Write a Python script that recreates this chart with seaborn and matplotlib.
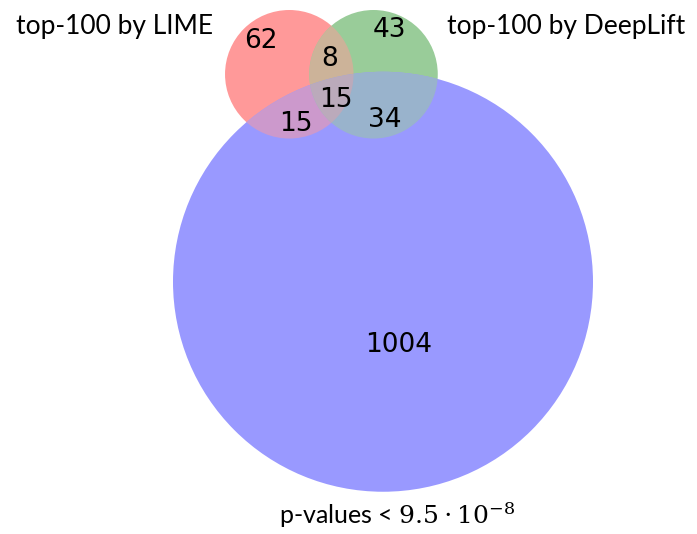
import numpy as np
import matplotlib
matplotlib.use("Agg")
import matplotlib.pyplot as plt
import seaborn as sns
from matplotlib.patches import Circle, Polygon

# region counts (A = LIME, B = DeepLift, C = p-values)
set_names = ["top-100 by LIME", "top-100 by DeepLift", r"p-values < $9.5\cdot10^{-8}$"]
only_a = 62
only_b = 43
only_c = 1004
a_b = 8
a_c = 15
b_c = 34
a_b_c = 15

size_a = only_a + a_b + a_c + a_b_c
size_b = only_b + a_b + b_c + a_b_c
size_c = only_c + a_c + b_c + a_b_c
inter_ab = a_b + a_b_c
inter_ac = a_c + a_b_c
inter_bc = b_c + a_b_c


def lens_area(r1, r2, d):
    if d >= r1 + r2:
        return 0.0
    if d <= abs(r1 - r2):
        return np.pi * min(r1, r2) ** 2
    a1 = r1 ** 2 * np.arccos((d ** 2 + r1 ** 2 - r2 ** 2) / (2 * d * r1))
    a2 = r2 ** 2 * np.arccos((d ** 2 + r2 ** 2 - r1 ** 2) / (2 * d * r2))
    a3 = 0.5 * np.sqrt((-d + r1 + r2) * (d + r1 - r2) * (d - r1 + r2) * (d + r1 + r2))
    return a1 + a2 - a3


def solve_distance(r1, r2, target):
    lo, hi = abs(r1 - r2), r1 + r2
    for _ in range(100):
        mid = (lo + hi) / 2
        if lens_area(r1, r2, mid) > target:
            lo = mid
        else:
            hi = mid
    return (lo + hi) / 2


# area proportional radii
ra = np.sqrt(size_a / np.pi)
rb = np.sqrt(size_b / np.pi)
rc = np.sqrt(size_c / np.pi)
d_ab = solve_distance(ra, rb, inter_ab)
d_ac = solve_distance(ra, rc, inter_ac)
d_bc = solve_distance(rb, rc, inter_bc)

ca = np.array([0.0, 0.0])
cb = np.array([d_ab, 0.0])
cx = (d_ac ** 2 - d_bc ** 2 + d_ab ** 2) / (2 * d_ab)
cc = np.array([cx, -np.sqrt(max(d_ac ** 2 - cx ** 2, 0))])

# matplotlib_venn style colours: mix, then alpha 0.4 on white
base = {"a": np.array([1.0, 0, 0]), "b": np.array([0, 0.5, 0]), "c": np.array([0, 0, 1.0])}


def region_color(*keys):
    mix = np.mean([base[k] for k in keys], axis=0)
    return tuple(1 - 0.4 * (1 - mix))


sns.set_theme(style="white")
plt.rcParams['font.family'] = ['DejaVu Sans']
plt.rcParams['text.color'] = 'black'
plt.rcParams['mathtext.fontset'] = 'dejavuserif'

fig = plt.figure(figsize=(6.97, 5.34), dpi=100)
ax = fig.add_axes([0, 0, 1, 1])
ax.axis("off")

s = 420 / (2 * rc)  # px per unit
left = cc[0] - rc - 173 / s
top = ra + 10 / s
ax.set_xlim(left, left + 697 / s)
ax.set_ylim(top - 534 / s, top)

circ = {"a": (ca, ra), "b": (cb, rb), "c": (cc, rc)}


def make_circle(k, color=None):
    c, r = circ[k]
    return Circle(c, r, facecolor=color, edgecolor="none", transform=ax.transData)


for k in ["a", "b", "c"]:
    ax.add_patch(make_circle(k, region_color(k)))

for k1, k2 in [("a", "b"), ("a", "c"), ("b", "c")]:
    p = make_circle(k1, region_color(k1, k2))
    ax.add_patch(p)
    p.set_clip_path(make_circle(k2))

# triple region: lens of A and B, clipped by C
t = np.linspace(0, 2 * np.pi, 720)
pts_a = ca + ra * np.c_[np.cos(t), np.sin(t)]
pts_b = cb + rb * np.c_[np.cos(t), np.sin(t)]
lens = np.vstack([pts_a[np.linalg.norm(pts_a - cb, axis=1) <= rb],
                  pts_b[np.linalg.norm(pts_b - ca, axis=1) <= ra]])
mid = lens.mean(axis=0)
lens = lens[np.argsort(np.arctan2(lens[:, 1] - mid[1], lens[:, 0] - mid[0]))]
tri = Polygon(lens, closed=True, facecolor=region_color("a", "b", "c"), edgecolor="none")
ax.add_patch(tri)
tri.set_clip_path(make_circle("c"))

# single-set labels: pushed out from the other two centres
single = [(only_a, "a", ["b", "c"], 0.68), (only_b, "b", ["a", "c"], 0.73),
          (only_c, "c", ["a", "b"], 0.31)]
for val, k, others, f in single:
    c, r = circ[k]
    away = c - np.mean([circ[o][0] for o in others], axis=0)
    pos = c + f * r * away / np.linalg.norm(away)
    ax.text(pos[0], pos[1], str(val), fontsize=19, ha="center", va="center")

# overlap labels: centroid of each region on a grid, small nudge in px
gx, gy = np.meshgrid(np.linspace(cc[0] - rc, cc[0] + rc, 700),
                     np.linspace(cc[1] - rc, ra, 700))
in_a = (gx - ca[0]) ** 2 + (gy - ca[1]) ** 2 <= ra ** 2
in_b = (gx - cb[0]) ** 2 + (gy - cb[1]) ** 2 <= rb ** 2
in_c = (gx - cc[0]) ** 2 + (gy - cc[1]) ** 2 <= rc ** 2
overlaps = [
    (a_b, in_a & in_b & ~in_c, (-1, 1)),
    (a_c, in_a & ~in_b & in_c, (5, 7)),
    (b_c, ~in_a & in_b & in_c, (-1, 16)),
    (a_b_c, in_a & in_b & in_c, (3, 5)),
]
for val, mask, (dx, dy) in overlaps:
    ax.text(gx[mask].mean() + dx / s, gy[mask].mean() - dy / s, str(val),
            fontsize=19, ha="center", va="center")

label_font = ["Lato", "DejaVu Sans"]
ax.text(ca[0] - ra - 12 / s, ca[1] + 0.75 * ra, set_names[0], fontsize=19,
        ha="right", va="center", family=label_font)
ax.text(cb[0] + rb + 9 / s, cb[1] + 0.75 * rb, set_names[1], fontsize=19,
        ha="left", va="center", family=label_font)
ax.text(cc[0] + 14 / s, cc[1] - rc - 9 / s, set_names[2], fontsize=18,
        ha="center", va="top", family=label_font)

fig.savefig("out.png", dpi=100)
